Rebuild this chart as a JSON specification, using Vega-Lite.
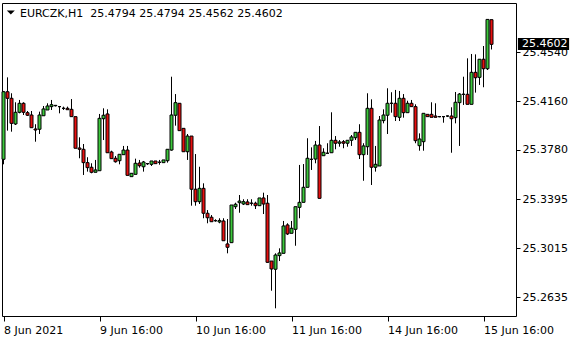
{
  "$schema": "https://vega.github.io/schema/vega-lite/v6.json",
  "width": 514,
  "height": 313,
  "autosize": {"type": "none"},
  "padding": {"left": 2, "top": 3, "right": 64, "bottom": 24},
  "background": "white",
  "config": {
    "view": {"stroke": null},
    "axis": {"domainColor": "black", "tickColor": "black", "labelColor": "black", "labelFont": "DejaVu Sans", "labelFontSize": 11, "grid": false, "title": null, "domainWidth": 1, "tickWidth": 1}
  },
  "datasets": {
    "bars": [
{"t":0,"o":25.3707,"h":25.4239,"l":25.3668,"c":25.4233},
{"t":1,"o":25.4233,"h":25.4345,"l":25.3930,"c":25.4182},
{"t":2,"o":25.4182,"h":25.4221,"l":25.3922,"c":25.3987},
{"t":3,"o":25.3982,"h":25.4151,"l":25.3974,"c":25.4073},
{"t":4,"o":25.4073,"h":25.4169,"l":25.4065,"c":25.4143},
{"t":5,"o":25.4143,"h":25.4151,"l":25.4052,"c":25.4073},
{"t":6,"o":25.4070,"h":25.4083,"l":25.4044,"c":25.4050},
{"t":7,"o":25.4052,"h":25.4083,"l":25.3953,"c":25.3953},
{"t":8,"o":25.3943,"h":25.3980,"l":25.3844,"c":25.3935},
{"t":9,"o":25.3941,"h":25.4078,"l":25.3904,"c":25.4052},
{"t":10,"o":25.4046,"h":25.4122,"l":25.4046,"c":25.4099},
{"t":11,"o":25.4091,"h":25.4143,"l":25.4091,"c":25.4122},
{"t":12,"o":25.4117,"h":25.4169,"l":25.4091,"c":25.4132},
{"t":13,"o":25.4124,"h":25.4130,"l":25.4118,"c":25.4127},
{"t":14,"o":25.4117,"h":25.4122,"l":25.4065,"c":25.4117},
{"t":15,"o":25.4104,"h":25.4117,"l":25.4091,"c":25.4104},
{"t":16,"o":25.4104,"h":25.4117,"l":25.4093,"c":25.4093},
{"t":17,"o":25.4096,"h":25.4176,"l":25.4039,"c":25.4039},
{"t":18,"o":25.4039,"h":25.4039,"l":25.3793,"c":25.3793},
{"t":19,"o":25.3795,"h":25.3878,"l":25.3715,"c":25.3785},
{"t":20,"o":25.3785,"h":25.3826,"l":25.3585,"c":25.3681},
{"t":21,"o":25.3681,"h":25.3723,"l":25.3611,"c":25.3642},
{"t":22,"o":25.3645,"h":25.3676,"l":25.3598,"c":25.3606},
{"t":23,"o":25.3606,"h":25.3702,"l":25.3606,"c":25.3624},
{"t":24,"o":25.3618,"h":25.4060,"l":25.3618,"c":25.4026},
{"t":25,"o":25.4023,"h":25.4104,"l":25.3857,"c":25.4050},
{"t":26,"o":25.4060,"h":25.4096,"l":25.3758,"c":25.3758},
{"t":27,"o":25.3764,"h":25.3774,"l":25.3712,"c":25.3712},
{"t":28,"o":25.3715,"h":25.3733,"l":25.3681,"c":25.3688},
{"t":29,"o":25.3696,"h":25.3746,"l":25.3668,"c":25.3746},
{"t":30,"o":25.3743,"h":25.3811,"l":25.3743,"c":25.3779},
{"t":31,"o":25.3779,"h":25.3811,"l":25.3582,"c":25.3582},
{"t":32,"o":25.3572,"h":25.3598,"l":25.3572,"c":25.3598},
{"t":33,"o":25.3590,"h":25.3712,"l":25.3590,"c":25.3676},
{"t":34,"o":25.3678,"h":25.3702,"l":25.3642,"c":25.3657},
{"t":35,"o":25.3649,"h":25.3694,"l":25.3611,"c":25.3686},
{"t":36,"o":25.3673,"h":25.3673,"l":25.3663,"c":25.3673},
{"t":37,"o":25.3668,"h":25.3694,"l":25.3655,"c":25.3694},
{"t":38,"o":25.3694,"h":25.3694,"l":25.3673,"c":25.3673},
{"t":39,"o":25.3684,"h":25.3702,"l":25.3665,"c":25.3684},
{"t":40,"o":25.3681,"h":25.3702,"l":25.3681,"c":25.3702},
{"t":41,"o":25.3696,"h":25.3785,"l":25.3681,"c":25.3785},
{"t":42,"o":25.3779,"h":25.4350,"l":25.3774,"c":25.4052},
{"t":43,"o":25.4050,"h":25.4215,"l":25.3969,"c":25.4148},
{"t":44,"o":25.4143,"h":25.4143,"l":25.3930,"c":25.3930},
{"t":45,"o":25.3948,"h":25.3948,"l":25.3766,"c":25.3766},
{"t":46,"o":25.3766,"h":25.3904,"l":25.3702,"c":25.3888},
{"t":47,"o":25.3888,"h":25.3888,"l":25.3346,"c":25.3474},
{"t":48,"o":25.3474,"h":25.3748,"l":25.3346,"c":25.3377},
{"t":49,"o":25.3377,"h":25.3649,"l":25.3359,"c":25.3481},
{"t":50,"o":25.3481,"h":25.3520,"l":25.3248,"c":25.3287},
{"t":51,"o":25.3287,"h":25.3312,"l":25.3209,"c":25.3252},
{"t":52,"o":25.3256,"h":25.3273,"l":25.3221,"c":25.3221},
{"t":53,"o":25.3229,"h":25.3240,"l":25.3221,"c":25.3229},
{"t":54,"o":25.3219,"h":25.3248,"l":25.3209,"c":25.3231},
{"t":55,"o":25.3227,"h":25.3248,"l":25.3073,"c":25.3073},
{"t":56,"o":25.3048,"h":25.3242,"l":25.2975,"c":25.3022},
{"t":57,"o":25.3058,"h":25.3351,"l":25.3058,"c":25.3351},
{"t":58,"o":25.3338,"h":25.3369,"l":25.3320,"c":25.3357},
{"t":59,"o":25.3369,"h":25.3429,"l":25.3291,"c":25.3382},
{"t":60,"o":25.3359,"h":25.3396,"l":25.3351,"c":25.3377},
{"t":61,"o":25.3375,"h":25.3396,"l":25.3354,"c":25.3354},
{"t":62,"o":25.3365,"h":25.3396,"l":25.3346,"c":25.3365},
{"t":63,"o":25.3365,"h":25.3377,"l":25.3320,"c":25.3346},
{"t":64,"o":25.3346,"h":25.3406,"l":25.3346,"c":25.3406},
{"t":65,"o":25.3406,"h":25.3447,"l":25.3281,"c":25.3359},
{"t":66,"o":25.3365,"h":25.3429,"l":25.2902,"c":25.2905},
{"t":67,"o":25.2915,"h":25.2915,"l":25.2684,"c":25.2853},
{"t":68,"o":25.2851,"h":25.2975,"l":25.2547,"c":25.2962},
{"t":69,"o":25.2957,"h":25.3014,"l":25.2915,"c":25.2978},
{"t":70,"o":25.2975,"h":25.3227,"l":25.2975,"c":25.3188},
{"t":71,"o":25.3196,"h":25.3209,"l":25.3118,"c":25.3126},
{"t":72,"o":25.3131,"h":25.3227,"l":25.3131,"c":25.3170},
{"t":73,"o":25.3162,"h":25.3338,"l":25.3034,"c":25.3338},
{"t":74,"o":25.3333,"h":25.3663,"l":25.3248,"c":25.3372},
{"t":75,"o":25.3372,"h":25.3670,"l":25.3372,"c":25.3489},
{"t":76,"o":25.3489,"h":25.3871,"l":25.3489,"c":25.3715},
{"t":77,"o":25.3707,"h":25.3800,"l":25.3624,"c":25.3707},
{"t":78,"o":25.3709,"h":25.3850,"l":25.3676,"c":25.3818},
{"t":79,"o":25.3818,"h":25.3966,"l":25.3403,"c":25.3403},
{"t":80,"o":25.3735,"h":25.3793,"l":25.3735,"c":25.3762},
{"t":81,"o":25.3754,"h":25.3832,"l":25.3754,"c":25.3754},
{"t":82,"o":25.3758,"h":25.4073,"l":25.3758,"c":25.3855},
{"t":83,"o":25.3855,"h":25.3888,"l":25.3785,"c":25.3832},
{"t":84,"o":25.3832,"h":25.3857,"l":25.3805,"c":25.3842},
{"t":85,"o":25.3844,"h":25.3857,"l":25.3793,"c":25.3832},
{"t":86,"o":25.3832,"h":25.3855,"l":25.3805,"c":25.3855},
{"t":87,"o":25.3855,"h":25.3896,"l":25.3811,"c":25.3881},
{"t":88,"o":25.3875,"h":25.3917,"l":25.3857,"c":25.3917},
{"t":89,"o":25.3917,"h":25.3980,"l":25.3709,"c":25.3743},
{"t":90,"o":25.3743,"h":25.3832,"l":25.3540,"c":25.3811},
{"t":91,"o":25.3805,"h":25.4221,"l":25.3741,"c":25.4104},
{"t":92,"o":25.4104,"h":25.4174,"l":25.3507,"c":25.3645},
{"t":93,"o":25.3645,"h":25.3811,"l":25.3611,"c":25.3668},
{"t":94,"o":25.3655,"h":25.4044,"l":25.3655,"c":25.4013},
{"t":95,"o":25.4008,"h":25.4096,"l":25.3987,"c":25.4052},
{"t":96,"o":25.4050,"h":25.4260,"l":25.3904,"c":25.4143},
{"t":97,"o":25.4143,"h":25.4229,"l":25.4070,"c":25.4143},
{"t":98,"o":25.4143,"h":25.4247,"l":25.4005,"c":25.4039},
{"t":99,"o":25.4034,"h":25.4239,"l":25.4005,"c":25.4182},
{"t":100,"o":25.4182,"h":25.4215,"l":25.4031,"c":25.4070},
{"t":101,"o":25.4070,"h":25.4163,"l":25.4070,"c":25.4143},
{"t":102,"o":25.4143,"h":25.4169,"l":25.4117,"c":25.4117},
{"t":103,"o":25.4117,"h":25.4135,"l":25.3832,"c":25.3852},
{"t":104,"o":25.3813,"h":25.3909,"l":25.3774,"c":25.3865},
{"t":105,"o":25.3844,"h":25.4065,"l":25.3774,"c":25.4065},
{"t":106,"o":25.4057,"h":25.4057,"l":25.4039,"c":25.4039},
{"t":107,"o":25.4057,"h":25.4151,"l":25.4034,"c":25.4034},
{"t":108,"o":25.4044,"h":25.4143,"l":25.4034,"c":25.4034},
{"t":109,"o":25.4039,"h":25.4044,"l":25.4034,"c":25.4039},
{"t":110,"o":25.4039,"h":25.4039,"l":25.3992,"c":25.4039},
{"t":111,"o":25.4044,"h":25.4048,"l":25.4036,"c":25.4044},
{"t":112,"o":25.4044,"h":25.4112,"l":25.3758,"c":25.4023},
{"t":113,"o":25.4031,"h":25.4231,"l":25.3987,"c":25.4151},
{"t":114,"o":25.4148,"h":25.4223,"l":25.3811,"c":25.4215},
{"t":115,"o":25.4213,"h":25.4350,"l":25.4130,"c":25.4213},
{"t":116,"o":25.4213,"h":25.4493,"l":25.4135,"c":25.4135},
{"t":117,"o":25.4135,"h":25.4527,"l":25.4135,"c":25.4384},
{"t":118,"o":25.4384,"h":25.4524,"l":25.4226,"c":25.4342},
{"t":119,"o":25.4345,"h":25.4486,"l":25.4286,"c":25.4486},
{"t":120,"o":25.4486,"h":25.4589,"l":25.4268,"c":25.4412},
{"t":121,"o":25.4412,"h":25.4796,"l":25.4402,"c":25.4796},
{"t":122,"o":25.4794,"h":25.4794,"l":25.4562,"c":25.4602}
    ],
    "one": [{"k": 1}]
  },
  "layer": [
    {
      "data": {"name": "bars"},
      "mark": {"type": "rule", "color": "black", "strokeWidth": 1},
      "encoding": {
        "x": {"field": "t", "type": "quantitative",
              "scale": {"domain": [-0.375, 128.125], "nice": false, "zero": false, "padding": 0},
              "axis": {"orient": "bottom", "values": [0, 24, 48, 72, 96, 120],
                       "labelExpr": "['8 Jun 2021','9 Jun 16:00','10 Jun 16:00','11 Jun 16:00','14 Jun 16:00','15 Jun 16:00'][round(datum.value/24)]",
                       "labelAlign": "left", "labelBaseline": "top", "tickSize": 5, "labelPadding": 3,
                       "labelFlush": false, "labelOverlap": false}},
        "y": {"field": "l", "type": "quantitative",
              "scale": {"domain": [25.24871, 25.49238], "nice": false, "zero": false, "padding": 0},
              "axis": {"orient": "right", "values": [25.2635, 25.3015, 25.3395, 25.378, 25.416, 25.454],
                       "format": ".4f", "tickSize": 4, "labelPadding": 2, "labelFlush": false, "labelOverlap": false}},
        "y2": {"field": "h"}
      }
    },
    {
      "data": {"name": "bars"},
      "mark": {"type": "bar", "width": 3, "stroke": "black", "strokeWidth": 1},
      "encoding": {
        "x": {"field": "t", "type": "quantitative", "axis": {"orient": "top", "labels": false, "ticks": false}},
        "y": {"field": "o", "type": "quantitative", "axis": {"orient": "left", "labels": false, "ticks": false}},
        "y2": {"field": "c"},
        "fill": {"condition": {"test": "datum.o > datum.c", "value": "#E81010"}, "value": "#3CC83C"}
      }
    },
    {
      "data": {"name": "one"},
      "mark": {"type": "rect", "color": "black"},
      "encoding": {
        "x": {"datum": 128.6, "type": "quantitative", "axis": null},
        "x2": {"datum": 141.4},
        "y": {"datum": 25.46514, "type": "quantitative", "axis": null},
        "y2": {"datum": 25.45579}
      }
    },
    {
      "data": {"name": "one"},
      "mark": {"type": "text", "color": "white", "align": "left", "baseline": "middle", "font": "DejaVu Sans", "fontSize": 11},
      "encoding": {
        "x": {"datum": 129.625, "type": "quantitative", "axis": null},
        "y": {"datum": 25.4602, "type": "quantitative", "axis": null},
        "text": {"value": "25.4602"}
      }
    },
    {
      "data": {"name": "one"},
      "mark": {"type": "text", "color": "black", "align": "left", "baseline": "alphabetic", "font": "DejaVu Sans", "fontSize": 11},
      "encoding": {
        "x": {"datum": 4.125, "type": "quantitative", "axis": null},
        "y": {"datum": 25.48125, "type": "quantitative", "axis": null},
        "text": {"value": "EURCZK,H1\u00a0\u00a025.4794 25.4794 25.4562 25.4602"}
      }
    },
    {
      "data": {"name": "one"},
      "mark": {"type": "point", "shape": "M-1,-0.5L1,-0.5L0,0.5Z", "filled": true, "color": "black", "size": 64, "opacity": 1},
      "encoding": {
        "x": {"datum": 1.825, "type": "quantitative", "axis": null},
        "y": {"datum": 25.485, "type": "quantitative", "axis": null}
      }
    }
  ],
  "resolve": {"axis": {"x": "independent", "y": "independent"}}
}
